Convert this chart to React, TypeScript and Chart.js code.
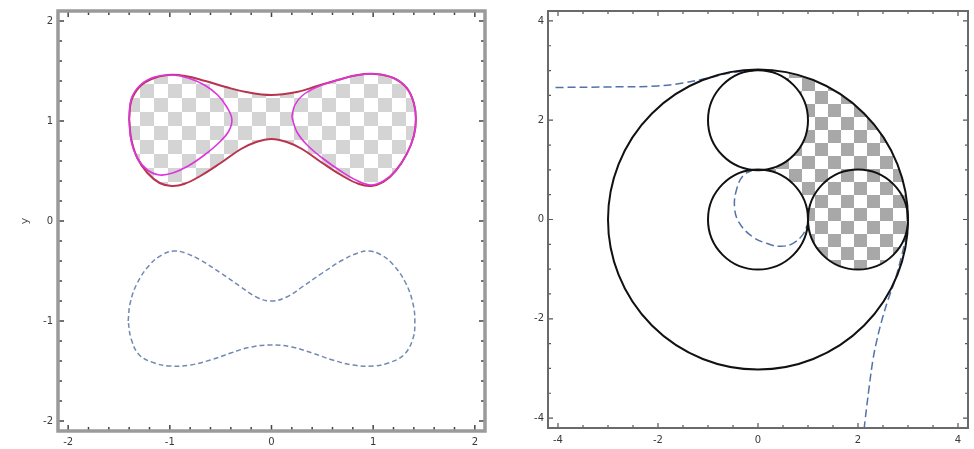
import React, { useEffect, useRef } from "react";
import { Chart, registerables } from "chart.js";
Chart.register(...registerables);

type P = [number, number];

// ---------- Left panel data ----------
const leftTicks = [-2, -1, 0, 1, 2];
const leftMinorStep = 0.2;
const leftMin = -2.1;
const leftMax = 2.1;
const leftYTitle = "y";

const upperOuter: P[] = [
  [-1.40, 1.02], [-1.38, 1.20], [-1.30, 1.34], [-1.18, 1.42], [-1.02, 1.46], [-0.85, 1.45],
  [-0.65, 1.40], [-0.45, 1.34], [-0.25, 1.29], [0, 1.26], [0.25, 1.29], [0.45, 1.35],
  [0.65, 1.41], [0.85, 1.46], [1.02, 1.47], [1.20, 1.43], [1.33, 1.33], [1.40, 1.18],
  [1.42, 1.02], [1.40, 0.85], [1.33, 0.67], [1.22, 0.50], [1.10, 0.39], [0.98, 0.35],
  [0.86, 0.37], [0.70, 0.45], [0.50, 0.58], [0.30, 0.72], [0.15, 0.79], [0, 0.82],
  [-0.15, 0.79], [-0.30, 0.72], [-0.50, 0.58], [-0.70, 0.45], [-0.86, 0.37], [-0.98, 0.35],
  [-1.10, 0.38], [-1.22, 0.48], [-1.32, 0.63], [-1.38, 0.82], [-1.40, 1.02],
];

const leftLoop: P[] = [
  [-1.40, 1.02], [-1.38, 1.22], [-1.29, 1.36], [-1.15, 1.44], [-0.98, 1.46], [-0.82, 1.43],
  [-0.66, 1.36], [-0.53, 1.26], [-0.44, 1.14], [-0.39, 1.02], [-0.42, 0.90], [-0.52, 0.78],
  [-0.66, 0.66], [-0.82, 0.55], [-0.97, 0.48], [-1.10, 0.46], [-1.22, 0.51], [-1.32, 0.63],
  [-1.38, 0.80], [-1.40, 1.02],
];

const rightLoop: P[] = [
  [0.20, 1.04], [0.23, 1.16], [0.31, 1.26], [0.45, 1.34], [0.65, 1.41], [0.85, 1.46],
  [1.02, 1.47], [1.20, 1.43], [1.33, 1.33], [1.40, 1.18], [1.42, 1.02], [1.40, 0.85],
  [1.33, 0.67], [1.22, 0.50], [1.10, 0.40], [0.98, 0.36], [0.85, 0.40], [0.68, 0.50],
  [0.50, 0.63], [0.35, 0.76], [0.25, 0.89], [0.20, 1.04],
];

const lowerDashed: P[] = [
  [-1.41, -1.0], [-1.39, -0.82], [-1.32, -0.62], [-1.20, -0.44], [-1.08, -0.34], [-0.96, -0.30],
  [-0.85, -0.32], [-0.70, -0.39], [-0.50, -0.52], [-0.30, -0.66], [-0.15, -0.76], [0, -0.80],
  [0.15, -0.76], [0.30, -0.66], [0.50, -0.52], [0.70, -0.39], [0.85, -0.32], [0.96, -0.30],
  [1.08, -0.34], [1.20, -0.44], [1.32, -0.62], [1.39, -0.82], [1.41, -1.0], [1.39, -1.18],
  [1.30, -1.34], [1.15, -1.42], [1.0, -1.45], [0.8, -1.44], [0.6, -1.39], [0.4, -1.32],
  [0.2, -1.26], [0, -1.24], [-0.2, -1.26], [-0.4, -1.32], [-0.6, -1.39], [-0.8, -1.44],
  [-1.0, -1.45], [-1.15, -1.42], [-1.30, -1.34], [-1.38, -1.18], [-1.41, -1.0],
];

// ---------- Right panel data ----------
const rightTicks = [-4, -2, 0, 2, 4];
const rightMinorStep = 0.5;
const rightMin = -4.2;
const rightMax = 4.2;

const circleX = [0, 0, 0, 2];
const circleY = [0, 2, 0, 0];
const circleR = [3, 1, 1, 1];

// shaded region: arcs of [circle index, from deg, to deg]
const regionArcs: [number, number, number][] = [
  [0, 90, 0],
  [3, 0, -180],
  [2, 0, 90],
  [1, -90, 90],
];

const dashTop: P[] = [
  [-4.05, 2.66], [-3.0, 2.67], [-2.0, 2.69], [-1.5, 2.75], [-1.0, 2.85], [-0.5, 2.96], [0, 3.0],
];
const dashInner: P[] = [
  [-0.1, 1.0], [-0.3, 0.88], [-0.43, 0.6], [-0.47, 0.25], [-0.38, -0.06], [-0.12, -0.34],
  [0.2, -0.49], [0.45, -0.54], [0.7, -0.48], [0.9, -0.3], [0.98, -0.12],
];
const dashBottom: P[] = [
  [2.97, -0.3], [2.88, -0.7], [2.74, -1.22], [2.6, -1.62], [2.48, -2.02], [2.38, -2.42],
  [2.3, -2.82], [2.22, -3.4], [2.14, -4.06], [2.12, -4.25],
];

const toXY = (a: P[]) => a.map(([x, y]) => ({ x, y }));

function makeChecker(ctx: CanvasRenderingContext2D, size: number, color: string) {
  const c = document.createElement("canvas");
  c.width = size * 2;
  c.height = size * 2;
  const g = c.getContext("2d")!;
  g.fillStyle = "#ffffff";
  g.fillRect(0, 0, size * 2, size * 2);
  g.fillStyle = color;
  g.fillRect(0, 0, size, size);
  g.fillRect(size, size, size, size);
  return ctx.createPattern(c, "repeat")!;
}

function framePlugin(o: {
  lineWidth: number; color: string; tickColor: string; major: number[]; step: number;
  majorLen: number; minorLen: number; tickWidth: number;
}) {
  return {
    id: "frame",
    afterDraw(chart: any) {
      const { ctx, chartArea: a, scales } = chart;
      const xs = scales.x, ys = scales.y;
      ctx.save();
      ctx.strokeStyle = o.tickColor;
      ctx.lineWidth = o.tickWidth;
      const lo = o.major[0], hi = o.major[o.major.length - 1];
      const n = Math.round((hi - lo) / o.step);
      for (let i = 0; i <= n; i++) {
        const v = lo + i * o.step;
        const isMajor = o.major.some((m) => Math.abs(m - v) < 1e-6);
        const len = isMajor ? o.majorLen : o.minorLen;
        const px = xs.getPixelForValue(v);
        const py = ys.getPixelForValue(v);
        ctx.beginPath();
        ctx.moveTo(px, a.bottom); ctx.lineTo(px, a.bottom - len);
        ctx.moveTo(px, a.top); ctx.lineTo(px, a.top + len);
        ctx.moveTo(a.left, py); ctx.lineTo(a.left + len, py);
        ctx.moveTo(a.right, py); ctx.lineTo(a.right - len, py);
        ctx.stroke();
      }
      ctx.strokeStyle = o.color;
      ctx.lineWidth = o.lineWidth;
      ctx.strokeRect(a.left, a.top, a.right - a.left, a.bottom - a.top);
      ctx.restore();
    },
  };
}

const tickFont = { family: "DejaVu Sans", size: 10 };
const tickColor = "#3a3a3a";

function axis(min: number, max: number, ticks: number[], fit: (s: any) => void, pad: number, extra: any = {}) {
  return {
    type: "linear",
    min,
    max,
    afterBuildTicks: (s: any) => {
      s.ticks = ticks.map((v) => ({ value: v }));
    },
    afterFit: fit,
    grid: { display: false, drawTicks: false, tickLength: 0 },
    border: { display: false },
    ticks: { font: tickFont, color: tickColor, padding: pad, maxRotation: 0, autoSkip: false },
    ...extra,
  };
}

function LeftChart() {
  const ref = useRef<HTMLCanvasElement>(null);
  useEffect(() => {
    const canvas = ref.current!;
    const ctx = canvas.getContext("2d")!;
    const pattern = makeChecker(ctx, 14, "#d4d4d4");
    const chart = new Chart(ctx, {
      type: "scatter",
      data: {
        datasets: [
          { data: toXY(leftLoop), showLine: true, tension: 0.4, borderColor: "#dd35dd", borderWidth: 1.6, pointRadius: 0, fill: false },
          { data: toXY(rightLoop), showLine: true, tension: 0.4, borderColor: "#dd35dd", borderWidth: 1.6, pointRadius: 0, fill: false },
          { data: toXY(upperOuter), showLine: true, tension: 0.4, borderColor: "#b8344e", borderWidth: 2, pointRadius: 0, fill: "shape", backgroundColor: pattern },
          { data: toXY(lowerDashed), showLine: true, tension: 0.4, borderColor: "#7189b3", borderWidth: 1.5, borderDash: [5, 3], pointRadius: 0, fill: false },
        ],
      } as any,
      options: {
        animation: false,
        responsive: false,
        events: [],
        layout: { padding: { left: 0, right: 5, top: 6, bottom: 0 }, autoPadding: false },
        plugins: { legend: { display: false }, tooltip: { enabled: false } },
        scales: {
          x: axis(leftMin, leftMax, leftTicks, (s: any) => { s.height = 18; }, 5),
          y: axis(leftMin, leftMax, leftTicks, (s: any) => { s.width = 58; }, 5, {
            title: { display: true, text: leftYTitle, font: { family: "DejaVu Sans", size: 11 }, color: "#555", padding: { top: 19, bottom: 0 } },
          }),
        },
      } as any,
      plugins: [framePlugin({ lineWidth: 3.5, color: "#9a9a9a", tickColor: "#444", major: leftTicks, step: leftMinorStep, majorLen: 6, minorLen: 4, tickWidth: 1.5 })],
    });
    return () => chart.destroy();
  }, []);
  return <canvas ref={ref} width={490} height={449} style={{ position: "absolute", left: 0, top: 0, width: 490, height: 449 }} />;
}

function RightChart() {
  const ref = useRef<HTMLCanvasElement>(null);
  useEffect(() => {
    const canvas = ref.current!;
    const ctx = canvas.getContext("2d")!;
    const pattern = makeChecker(ctx, 13, "#a8a8a8");
    const circles = circleX.map((x, i) => ({ x, y: circleY[i], r: circleR[i] }));
    const regionPlugin = {
      id: "region",
      beforeDatasetsDraw(chart: any) {
        const { ctx: c, chartArea: a, scales } = chart;
        const xs = scales.x, ys = scales.y;
        c.save();
        c.beginPath();
        c.rect(a.left, a.top, a.right - a.left, a.bottom - a.top);
        c.clip();
        c.beginPath();
        for (const [ci, from, to] of regionArcs) {
          const cc = circles[ci];
          const cx = xs.getPixelForValue(cc.x), cy = ys.getPixelForValue(cc.y);
          const rx = Math.abs(xs.getPixelForValue(cc.r) - xs.getPixelForValue(0));
          const ry = Math.abs(ys.getPixelForValue(cc.r) - ys.getPixelForValue(0));
          c.ellipse(cx, cy, rx, ry, 0, (-from * Math.PI) / 180, (-to * Math.PI) / 180, to > from);
        }
        c.closePath();
        c.fillStyle = pattern;
        c.fill();
        c.restore();
      },
    };
    const radiusFn = (c: any) => {
      const s = c.chart.scales.x;
      if (!c.chart.chartArea || !s || !c.raw) return 0;
      const v = Math.abs(s.getPixelForValue(c.raw.r) - s.getPixelForValue(0));
      return isFinite(v) ? v : 0;
    };
    const dashStyle = { showLine: true, tension: 0.4, borderColor: "#5273aa", borderWidth: 1.5, borderDash: [8, 4], pointRadius: 0, fill: false };
    const chart = new Chart(ctx, {
      type: "scatter",
      data: {
        datasets: [
          { data: circles, showLine: false, pointRadius: radiusFn, pointHoverRadius: radiusFn, pointBackgroundColor: "rgba(0,0,0,0)", pointBorderColor: "#111", pointBorderWidth: 2, clip: false },
          { data: toXY(dashTop), ...dashStyle },
          { data: toXY(dashInner), ...dashStyle },
          { data: toXY(dashBottom), ...dashStyle },
        ],
      } as any,
      options: {
        animation: false,
        responsive: false,
        events: [],
        layout: { padding: { left: 0, right: 6, top: 11, bottom: 0 }, autoPadding: false },
        plugins: { legend: { display: false }, tooltip: { enabled: false } },
        scales: {
          x: axis(rightMin, rightMax, rightTicks, (s: any) => { s.height = 21; }, 6),
          y: axis(rightMin, rightMax, rightTicks, (s: any) => { s.width = 58; }, 4),
        },
      } as any,
      plugins: [regionPlugin, framePlugin({ lineWidth: 2, color: "#6a6a6a", tickColor: "#555", major: rightTicks, step: rightMinorStep, majorLen: 5, minorLen: 3, tickWidth: 1.2 })],
    });
    return () => chart.destroy();
  }, []);
  return <canvas ref={ref} width={484} height={449} style={{ position: "absolute", left: 490, top: 0, width: 484, height: 449 }} />;
}

export default function App() {
  return (
    <div style={{ position: "fixed", left: 0, top: 0, width: 974, height: 449, background: "#fff", overflow: "hidden" }}>
      <LeftChart />
      <RightChart />
    </div>
  );
}
